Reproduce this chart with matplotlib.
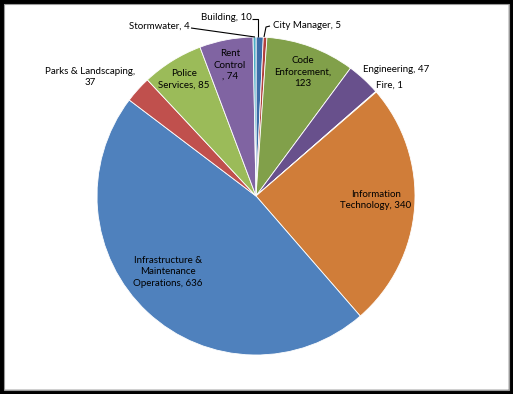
import matplotlib
matplotlib.use("Agg")
import matplotlib.pyplot as plt
import numpy as np
from matplotlib.patches import Rectangle

categories = ["Building", "City Manager", "Code\nEnforcement", "Engineering", "Fire",
              "Information\nTechnology", "Infrastructure &\nMaintenance\nOperations",
              "Parks & Landscaping", "Police\nServices", "Rent\nControl", "Stormwater"]
values = [10, 5, 123, 47, 1, 340, 636, 37, 85, 74, 4]
colors = ["#3C6DA8", "#B1403D", "#81A04A", "#68508C", "#3E9DB5", "#D07D39",
          "#4F81BD", "#C0504D", "#9BBB59", "#8064A2", "#4BACC6"]

W, H = 513, 394
fig = plt.figure(figsize=(W/100, H/100), dpi=100)
fig.patch.set_facecolor("white")

cx, cy, r = 256, 196, 159
ax = fig.add_axes([(cx-r)/W, (H-cy-r)/H, 2*r/W, 2*r/H])
wedges, _ = ax.pie(values, colors=colors, startangle=90, counterclock=False,
                   radius=1, wedgeprops=dict(linewidth=0.6, edgecolor="white"))
ax.set_xlim(-1, 1); ax.set_ylim(-1, 1)
ax.set_aspect("equal")
ax.axis("off")

fam = ["Lato", "DejaVu Sans"]
fs = 7.0

def px2d(px, py):
    return ((px-cx)/r, (cy-py)/r)

labels = [
    ("Building, 10", (226, 18), "center"),
    ("City Manager, 5", (307, 26), "center"),
    ("Code\nEnforcement,\n123", (303, 72), "center"),
    ("Engineering, 47", (396, 70), "center"),
    ("Fire, 1", (390, 85), "center"),
    ("Information\nTechnology, 340", (376, 200), "center"),
    ("Infrastructure &\nMaintenance\nOperations, 636", (168, 272), "center"),
    ("Parks & Landscaping,\n37", (90, 77), "center"),
    ("Police\nServices, 85", (184, 79), "center"),
    ("Rent\nControl\n, 74", (230, 65), "center"),
    ("Stormwater, 4", (159, 26), "center"),
]
for (t, (px, py), ha) in labels:
    x, y = px2d(px, py)
    ax.text(x, y, t, ha=ha, va="center", fontsize=fs, family=fam,
            color="#000000", linespacing=1.38)

def line(pts):
    d = [px2d(*p) for p in pts]
    ax.plot([p[0] for p in d], [p[1] for p in d], color="black", lw=0.8,
            clip_on=False, solid_capstyle="butt")

line([(252, 19), (258, 19), (258, 37)])
line([(270, 26), (266, 27), (264, 37)])
line([(191, 28), (255, 37)])

fig.add_artist(Rectangle((0, 0), 1, 1, transform=fig.transFigure, fill=False,
                         edgecolor="black", linewidth=6, clip_on=False))
fig.add_artist(Rectangle((4/W, 4/H), 1-8/W, 1-8/H, transform=fig.transFigure,
                         fill=False, edgecolor="#9a9a9a", linewidth=0.8, clip_on=False))

fig.savefig("out.png", dpi=100, facecolor="white")
